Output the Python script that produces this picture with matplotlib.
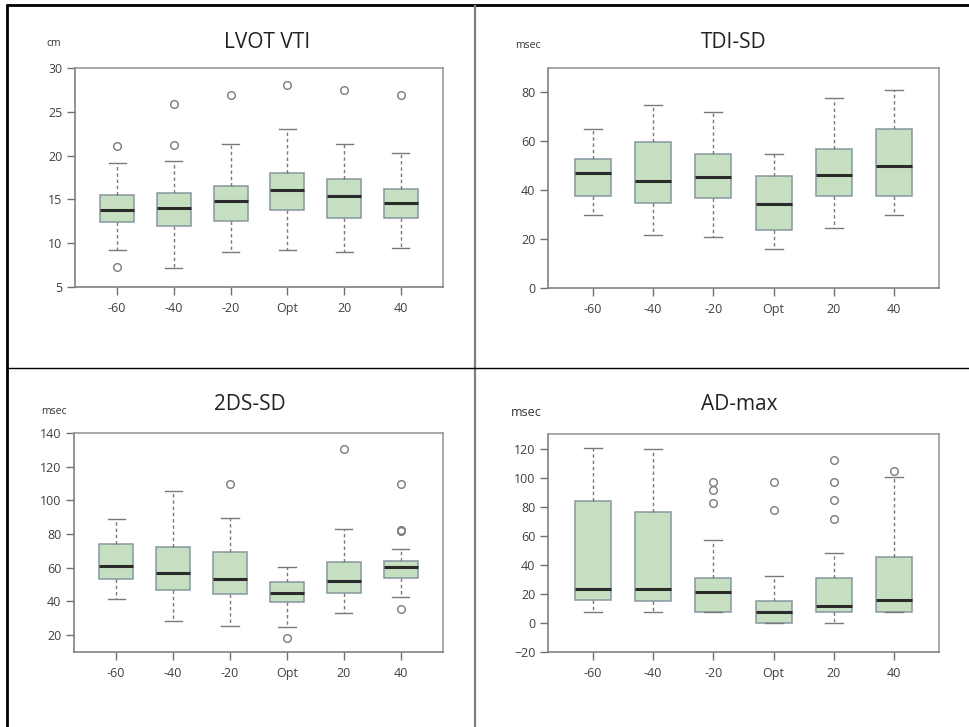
import matplotlib.pyplot as plt
from matplotlib.lines import Line2D

plt.rcParams['font.family'] = ['Open Sans', 'DejaVu Sans']

groups = ['-60', '-40', '-20', 'Opt', '20', '40']

# LVOT VTI (cm)
lvot_lo = [9.25, 7.16, 8.98, 9.17, 8.98, 9.44]
lvot_q1 = [12.44, 12.02, 12.55, 13.84, 12.85, 12.82]
lvot_med = [13.8, 13.99, 14.86, 16.04, 15.39, 14.6]
lvot_q3 = [15.55, 15.7, 16.57, 18.05, 17.29, 16.15]
lvot_hi = [19.15, 19.38, 21.31, 23.06, 21.31, 20.25]
lvot_out = [[21.1, 7.24], [25.87, 21.24], [26.97], [28.07], [27.46], [26.89]]

# TDI-SD (msec)
tdi_lo = [29.8, 21.8, 20.8, 15.8, 24.7, 29.8]
tdi_q1 = [37.7, 34.9, 36.7, 23.8, 37.7, 37.7]
tdi_med = [47.0, 43.8, 45.5, 34.3, 46.4, 50.0]
tdi_q3 = [52.8, 59.8, 54.9, 45.9, 56.9, 65.0]
tdi_hi = [65.0, 75.0, 71.9, 54.9, 77.8, 81.0]
tdi_out = [[], [], [], [], [], []]

# 2DS-SD (msec)
sd2_lo = [41.7, 28.3, 25.7, 25.0, 33.0, 42.7]
sd2_q1 = [53.3, 47.0, 44.2, 39.5, 44.8, 53.9]
sd2_med = [60.9, 56.8, 53.5, 45.2, 52.3, 60.2]
sd2_q3 = [74.3, 72.2, 69.2, 51.5, 63.5, 64.1]
sd2_hi = [89.1, 105.4, 89.7, 60.6, 83.0, 71.0]
sd2_out = [[], [], [109.7], [18.5], [130.4], [109.7, 81.8, 82.3, 35.6]]

# AD-max (msec)
ad_lo = [7.5, 7.5, 7.5, 0.0, 0.0, 7.5]
ad_q1 = [15.8, 14.8, 7.5, 0.0, 7.5, 7.5]
ad_med = [23.1, 23.1, 21.5, 7.5, 11.4, 15.8]
ad_q3 = [84.0, 76.0, 30.6, 15.3, 30.6, 45.7]
ad_hi = [120.1, 120.0, 57.1, 32.0, 47.9, 100.5]
ad_out = [[], [], [97.0, 91.6, 82.2], [97.0, 77.4], [111.9, 97.0, 84.9, 71.2], [104.6]]

W, H = 969, 727
fig = plt.figure(figsize=(W / 100, H / 100), dpi=100)
fig.patch.set_facecolor('white')


def px(x, y):
    # pixel position (from top-left) to figure fraction
    return x / W, 1 - y / H


def make_stats(lo, q1, med, q3, hi, out):
    return [dict(whislo=a, q1=b, med=c, q3=d, whishi=e, fliers=f)
            for a, b, c, d, e, f in zip(lo, q1, med, q3, hi, out)]


def panel(box, title, unit, stats, ylim, yticks, title_pos, unit_pos, unit_size=7.5):
    left, top, right, bottom = box
    x0, y0 = px(left, bottom)
    ax = fig.add_axes([x0, y0, (right - left) / W, (bottom - top) / H])
    ax.bxp(stats, positions=range(1, 7), widths=0.6, capwidths=0.3,
           patch_artist=True, showfliers=True,
           boxprops=dict(facecolor='#c6dfc0', edgecolor='#8797a0', linewidth=1.1),
           whiskerprops=dict(color='#7a7a7a', linestyle=(0, (2.5, 2)), linewidth=1),
           capprops=dict(color='#7a7a7a', linewidth=1),
           medianprops=dict(color='#2b2b2b', linewidth=2.2),
           flierprops=dict(marker='o', markerfacecolor='none', markeredgecolor='#7a7a7a',
                           markersize=5.5, markeredgewidth=1))
    ax.set_xlim(0.26, 6.74)
    ax.set_ylim(*ylim)
    ax.set_yticks(yticks)
    ax.set_xticks(range(1, 7))
    ax.set_xticklabels(groups)
    for s in ax.spines.values():
        s.set_color('#9a9a9a')
        s.set_linewidth(1.2)
    ax.spines['left'].set_color('#808080')
    ax.spines['bottom'].set_color('#808080')
    ax.tick_params(axis='both', length=6, width=1, color='#707070',
                   labelsize=9, labelcolor='#404040')
    ax.tick_params(axis='y', pad=3)
    ax.tick_params(axis='x', pad=5)
    fig.text(*px(*title_pos), title, ha='center', va='center', fontsize=15, color='#222222')
    fig.text(*px(*unit_pos), unit, ha='center', va='center', fontsize=unit_size, color='#333333')
    return ax


panel((75, 68, 443, 287), 'LVOT VTI', 'cm',
      make_stats(lvot_lo, lvot_q1, lvot_med, lvot_q3, lvot_hi, lvot_out),
      (5, 30), [5, 10, 15, 20, 25, 30], (267, 42), (54, 44))

panel((548, 68, 939, 288), 'TDI-SD', 'msec',
      make_stats(tdi_lo, tdi_q1, tdi_med, tdi_q3, tdi_hi, tdi_out),
      (0, 90), [0, 20, 40, 60, 80], (734, 42), (528, 45))

panel((74, 433, 443, 652), '2DS-SD', 'msec',
      make_stats(sd2_lo, sd2_q1, sd2_med, sd2_q3, sd2_hi, sd2_out),
      (10, 140), [20, 40, 60, 80, 100, 120, 140], (250, 405), (54, 411))

panel((548, 434, 939, 652), 'AD-max', 'msec',
      make_stats(ad_lo, ad_q1, ad_med, ad_q3, ad_hi, ad_out),
      (-20, 130), [-20, 0, 20, 40, 60, 80, 100, 120], (739, 405), (526, 412), unit_size=9)

# table frame around the four panels
def rule(x1, y1, x2, y2, color='black', lw=1.0):
    a, b = px(x1, y1)
    c, d = px(x2, y2)
    fig.add_artist(Line2D([a, c], [b, d], color=color, linewidth=lw,
                          transform=fig.transFigure, solid_capstyle='butt'))


rule(6, 5, W, 5, lw=2.0)
rule(7, 4, 7, H, lw=2.0)
rule(475, 5, 475, H, color='#7f7f7f', lw=1.6)
rule(7, 368, W, 368, lw=1.0)

fig.savefig('out.png', dpi=100, facecolor='white')
